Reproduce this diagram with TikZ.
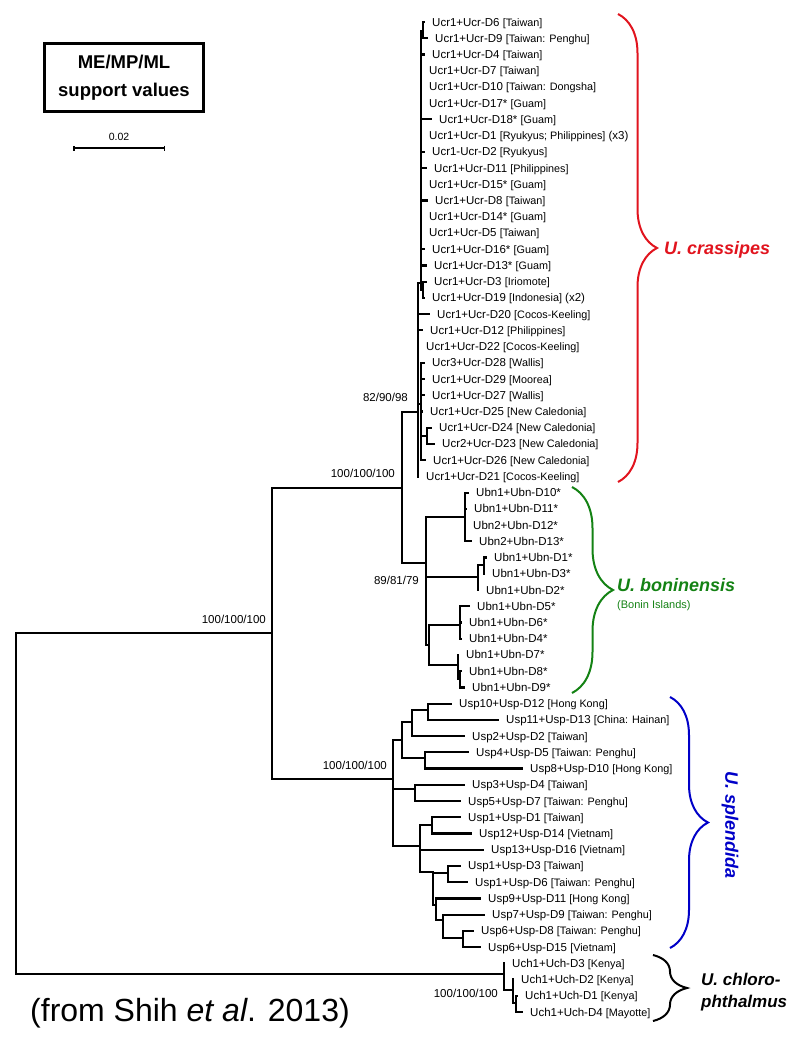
\documentclass[tikz,border=0pt]{standalone}
\usepackage{fontspec}
\setmainfont{Liberation Sans}
\usetikzlibrary{arrows.meta}
\usetikzlibrary{decorations.pathreplacing}
\definecolor{crassred}{RGB}{225,20,30}
\definecolor{boningreen}{RGB}{20,130,20}
\definecolor{splendblue}{RGB}{0,0,200}
\newcommand{\locn}[1]{{\fontsize{10.8}{12}\selectfont[#1]}}

\begin{document}
\begin{tikzpicture}[x=1pt, y=-1pt,
        branch/.style={line width=2.2pt, line cap=rect},
        leaf/.style={anchor=west, inner xsep=8pt, inner ysep=0pt, text height=8pt, text depth=0pt, font=\fontsize{11.5}{13}\selectfont},
        support/.style={anchor=east, inner sep=1pt, font=\fontsize{11.5}{13}\selectfont},
        clade/.style={anchor=west, inner sep=0pt, font=\fontsize{18}{20}\selectfont\bfseries\itshape},
        cladebrace/.style={decorate, line width=2pt, decoration={brace, amplitude=#1}}]
        \useasboundingbox (0,0) rectangle (800,1037);

        \node[draw, line width=3pt, minimum width=159pt, minimum height=68pt, align=center, font=\fontsize{18.5}{28}\selectfont\bfseries] (legend) at (124,77.5) {ME/MP/ML\\support values};
        \coordinate (sbleft) at (73,148);
        \coordinate (sbright) at (165,148);
        \draw[line width=1.5pt, {Bar[width=5pt]}-{Bar[width=5pt]}] (sbleft) -- (sbright);
        \node[font=\fontsize{10.5}{12}\selectfont] (sblabel) at (119,137) {0.02};

        \coordinate (root) at (16,633);
        \coordinate (top) at (272,633);
        \coordinate (cb) at (402,488);
        \coordinate (cr) at (418,412);
        \coordinate (ca) at (421,283);
        \coordinate (sub6) at (423,31);
        \coordinate (sub3) at (423,290);
        \coordinate (cp) at (421,404);
        \coordinate (sub24) at (427,436);
        \coordinate (ub) at (426,563);
        \coordinate (b1) at (465,517);
        \coordinate (b2) at (478,577);
        \coordinate (b2a) at (484,565);
        \coordinate (b3) at (429,645);
        \coordinate (b3a) at (460,625);
        \coordinate (b3b) at (458,665);
        \coordinate (b3c) at (460,679);
        \coordinate (sp) at (393,779);
        \coordinate (s1) at (402,740);
        \coordinate (s1a) at (412,722);
        \coordinate (s1aa) at (428,710);
        \coordinate (s1b) at (425,758);
        \coordinate (s2) at (415,789);
        \coordinate (s3) at (420,846);
        \coordinate (s3a) at (432,825);
        \coordinate (s3b) at (433,872);
        \coordinate (s3ba) at (448,873);
        \coordinate (s3bb) at (436,905);
        \coordinate (s3bbb) at (443,920);
        \coordinate (s3c) at (463,938);
        \coordinate (uch) at (504,974);
        \coordinate (u1) at (513,990);
        \coordinate (u2) at (516,1003);

        \foreach \p/\c in {root/top, root/uch, top/cb, top/sp, cb/cr, cb/ub, cr/ca, cr/cp, ca/sub6, ca/sub3, cp/sub24,
                ub/b1, ub/b2, ub/b3, b2/b2a, b3/b3a, b3/b3b, b3b/b3c,
                sp/s1, sp/s2, sp/s3, s1/s1a, s1/s1b, s1a/s1aa, s3/s3a, s3/s3b, s3b/s3ba, s3b/s3bb, s3bb/s3bbb, s3bbb/s3c,
                uch/u1, u1/u2}
            \draw[branch] (\p) |- (\c);

        \foreach \n/\p/\x/\lbl [count=\i from 0] in {
                crD6/sub6/424/{Ucr1+Ucr-D6 \locn{Taiwan}},
                crD9/sub6/427/{Ucr1+Ucr-D9 \locn{Taiwan: Penghu}},
                crD4/ca/424/{Ucr1+Ucr-D4 \locn{Taiwan}},
                crD7/ca/421/{Ucr1+Ucr-D7 \locn{Taiwan}},
                crD10/ca/421/{Ucr1+Ucr-D10 \locn{Taiwan: Dongsha}},
                crD17/ca/421/{Ucr1+Ucr-D17* \locn{Guam}},
                crD18/ca/431/{Ucr1+Ucr-D18* \locn{Guam}},
                crD1/ca/421/{Ucr1+Ucr-D1 \locn{Ryukyus; Philippines} (x3)},
                crD2/ca/424/{Ucr1-Ucr-D2 \locn{Ryukyus}},
                crD11/ca/426/{Ucr1+Ucr-D11 \locn{Philippines}},
                crD15/ca/421/{Ucr1+Ucr-D15* \locn{Guam}},
                crD8/ca/427/{Ucr1+Ucr-D8 \locn{Taiwan}},
                crD14/ca/421/{Ucr1+Ucr-D14* \locn{Guam}},
                crD5/ca/421/{Ucr1+Ucr-D5 \locn{Taiwan}},
                crD16/ca/424/{Ucr1+Ucr-D16* \locn{Guam}},
                crD13/ca/426/{Ucr1+Ucr-D13* \locn{Guam}},
                crD3/sub3/426/{Ucr1+Ucr-D3 \locn{Iriomote}},
                crD19/sub3/424/{Ucr1+Ucr-D19 \locn{Indonesia} (x2)},
                crD20/cr/429/{Ucr1+Ucr-D20 \locn{Cocos-Keeling}},
                crD12/cr/422/{Ucr1+Ucr-D12 \locn{Philippines}},
                crD22/cr/418/{Ucr1+Ucr-D22 \locn{Cocos-Keeling}},
                crD28/cp/424/{Ucr3+Ucr-D28 \locn{Wallis}},
                crD29/cp/424/{Ucr1+Ucr-D29 \locn{Moorea}},
                crD27/cp/424/{Ucr1+Ucr-D27 \locn{Wallis}},
                crD25/cp/422/{Ucr1+Ucr-D25 \locn{New Caledonia}},
                crD24/sub24/431/{Ucr1+Ucr-D24 \locn{New Caledonia}},
                crD23/sub24/434/{Ucr2+Ucr-D23 \locn{New Caledonia}},
                crD26/cp/425/{Ucr1+Ucr-D26 \locn{New Caledonia}},
                crD21/cr/418/{Ucr1+Ucr-D21 \locn{Cocos-Keeling}},
                bnD10/b1/468/{Ubn1+Ubn-D10*},
                bnD11/b1/466/{Ubn1+Ubn-D11*},
                bnD12/b1/465/{Ubn2+Ubn-D12*},
                bnD13/b1/471/{Ubn2+Ubn-D13*},
                bnD1/b2a/486/{Ubn1+Ubn-D1*},
                bnD3/b2a/484/{Ubn1+Ubn-D3*},
                bnD2/b2/478/{Ubn1+Ubn-D2*},
                bnD5/b3a/469/{Ubn1+Ubn-D5*},
                bnD6/b3a/461/{Ubn1+Ubn-D6*},
                bnD4/b3a/461/{Ubn1+Ubn-D4*},
                bnD7/b3b/458/{Ubn1+Ubn-D7*},
                bnD8/b3c/461/{Ubn1+Ubn-D8*},
                bnD9/b3c/464/{Ubn1+Ubn-D9*},
                spD12/s1aa/451/{Usp10+Usp-D12 \locn{Hong Kong}},
                spD13/s1aa/498/{Usp11+Usp-D13 \locn{China: Hainan}},
                spD2/s1a/464/{Usp2+Usp-D2 \locn{Taiwan}},
                spD5/s1b/468/{Usp4+Usp-D5 \locn{Taiwan: Penghu}},
                spD10/s1b/522/{Usp8+Usp-D10 \locn{Hong Kong}},
                spD4/s2/464/{Usp3+Usp-D4 \locn{Taiwan}},
                spD7/s2/460/{Usp5+Usp-D7 \locn{Taiwan: Penghu}},
                spD1/s3a/460/{Usp1+Usp-D1 \locn{Taiwan}},
                spD14/s3a/471/{Usp12+Usp-D14 \locn{Vietnam}},
                spD16/s3/483/{Usp13+Usp-D16 \locn{Vietnam}},
                spD3/s3ba/460/{Usp1+Usp-D3 \locn{Taiwan}},
                spD6/s3ba/467/{Usp1+Usp-D6 \locn{Taiwan: Penghu}},
                spD11/s3bb/480/{Usp9+Usp-D11 \locn{Hong Kong}},
                spD9/s3bbb/484/{Usp7+Usp-D9 \locn{Taiwan: Penghu}},
                spD8/s3c/473/{Usp6+Usp-D8 \locn{Taiwan: Penghu}},
                spD15/s3c/480/{Usp6+Usp-D15 \locn{Vietnam}},
                chD3/uch/504/{Uch1+Uch-D3 \locn{Kenya}},
                chD2/u1/513/{Uch1+Uch-D2 \locn{Kenya}},
                chD1/u2/517/{Uch1+Uch-D1 \locn{Kenya}},
                chD4/u2/522/{Uch1+Uch-D4 \locn{Mayotte}}}{
            \node[leaf] (\n) at (\x,22+16.23*\i) {\lbl};
            \draw[branch] (\p) |- (\n.west);
        }

        \node[support] (bsroot) at (267,619) {100/100/100};
        \node[support] (bscb) at (396,473) {100/100/100};
        \node[support] (bscr) at (409,397) {82/90/98};
        \node[support] (bsub) at (420,580) {89/81/79};
        \node[support] (bssp) at (388,765) {100/100/100};
        \node[support] (bsuch) at (499,993) {100/100/100};

        \draw[cladebrace=39, draw=crassred] (618,14) -- (618,482);
        \draw[cladebrace=41, draw=boningreen] (572,487) -- (572,693);
        \draw[cladebrace=38, draw=splendblue] (670,697) -- (670,948);
        \draw[cladebrace=34] (653,955) -- (653,1021);

        \node[clade, text=crassred] (crassipes) at (664,250) {U. crassipes};
        \node[clade, text=boningreen] (boninensis) at (617,585) {U. boninensis};
        \node[anchor=west, inner sep=0pt, text=boningreen, font=\fontsize{11}{13}\selectfont] (bonin) at (617,606) {(Bonin Islands)};
        \node[clade, anchor=center, rotate=-90, text=splendblue] (splendida) at (730,825) {U. splendida};
        \node[clade, font=\fontsize{17}{20}\selectfont\bfseries\itshape] (chloro) at (701,979) {U. chloro-};
        \node[clade, font=\fontsize{17}{20}\selectfont\bfseries\itshape] (phthal) at (701,1003) {phthalmus};

        \node[anchor=west, inner sep=0pt, font=\fontsize{32}{35}\selectfont] (source) at (30,1013) {(from Shih \textit{et al}. 2013)};
    \end{tikzpicture}
\end{document}
